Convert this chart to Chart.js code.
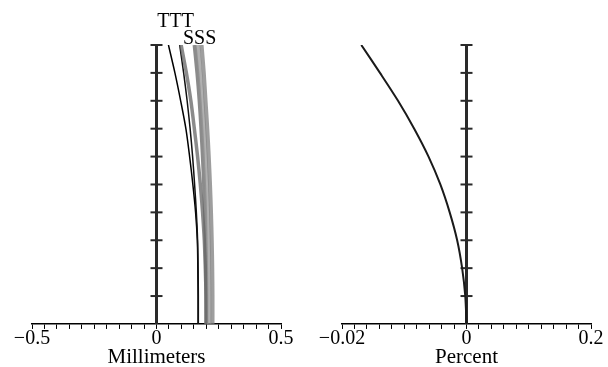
<!DOCTYPE html>
<html>
<head>
<meta charset="utf-8">
<script src="https://cdn.jsdelivr.net/npm/chart.js@4.4.0/dist/chart.umd.min.js"></script>
<style>
html, body { margin: 0; padding: 0; background: #fff; }
#wrap { position: relative; width: 608px; height: 367px; }
canvas { position: absolute; top: 0; }
</style>
</head>
<body>
<div id="wrap">
  <canvas id="curv" width="304" height="367" style="left:0"></canvas>
  <canvas id="dist" width="304" height="367" style="left:304px"></canvas>
</div>
<script>
// relative field height, bottom (0) to top (1)
const field = [0, 0.1, 0.2, 0.3, 0.4, 0.5, 0.6, 0.7, 0.8, 0.9, 1.0];

// field curvature, mm
const tan1 = [0.167, 0.167, 0.166, 0.164, 0.157, 0.146, 0.133, 0.118, 0.097, 0.074, 0.048];
const tan2 = [0.168, 0.168, 0.167, 0.165, 0.160, 0.153, 0.145, 0.135, 0.123, 0.109, 0.093];
const tan3 = [0.200, 0.199, 0.196, 0.192, 0.185, 0.176, 0.165, 0.152, 0.138, 0.120, 0.099];
const sag1 = [0.200, 0.200, 0.199, 0.197, 0.195, 0.191, 0.186, 0.180, 0.173, 0.164, 0.153];
const sag2 = [0.212, 0.212, 0.211, 0.209, 0.206, 0.202, 0.197, 0.191, 0.184, 0.176, 0.167];
const sag3 = [0.225, 0.225, 0.224, 0.222, 0.219, 0.215, 0.210, 0.204, 0.197, 0.190, 0.181];

// distortion (in the axis units of the right panel)
const distortion = [0, -0.002, -0.007, -0.015, -0.027, -0.042, -0.061, -0.084, -0.110, -0.139, -0.169];

const curvTicks = [-0.5, 0, 0.5];
const curvTickLabels = ['−0.5', '0', '0.5'];
const distTicks = [-0.2, 0, 0.2];
const distTickLabels = ['−0.02', '0', '0.2'];
const curveLabels = ['TTT', 'SSS'];
const curveLabelX = [0.077, 0.173];

Chart.defaults.font.family = '"Liberation Serif", "Times New Roman", serif';
Chart.defaults.font.size = 20;
Chart.defaults.color = '#000';

function pts(xs) {
  return xs.map((v, i) => ({ x: v, y: field[i] }));
}

function line(xs, color, width) {
  return {
    data: pts(xs),
    showLine: true,
    borderColor: color,
    borderWidth: width,
    pointRadius: 0,
    tension: 0.3,
    fill: false
  };
}

// vertical axis through x = 0 with ticks crossing it
const centerAxis = {
  id: 'centerAxis',
  beforeDatasetsDraw(chart) {
    const { ctx, scales: { x, y } } = chart;
    const px = x.getPixelForValue(0);
    ctx.save();
    ctx.strokeStyle = '#2a2a2a';
    ctx.lineWidth = 3;
    ctx.beginPath();
    ctx.moveTo(px, y.getPixelForValue(0));
    ctx.lineTo(px, y.getPixelForValue(1) - 1);
    ctx.stroke();
    ctx.lineWidth = 2;
    field.forEach(v => {
      if (v === 0) return;
      const py = y.getPixelForValue(v);
      ctx.beginPath();
      ctx.moveTo(px - 6, py);
      ctx.lineTo(px + 6, py);
      ctx.stroke();
    });
    ctx.restore();
  }
};

const curveNames = {
  id: 'curveNames',
  afterDraw(chart) {
    if (chart.canvas.id !== 'curv') return;
    const { ctx, scales: { x, y } } = chart;
    const top = y.getPixelForValue(1);
    ctx.save();
    ctx.font = '20px "Liberation Serif", serif';
    ctx.fillStyle = '#000';
    ctx.textAlign = 'center';
    ctx.textBaseline = 'alphabetic';
    ctx.fillText(curveLabels[0], x.getPixelForValue(curveLabelX[0]), top - 18);
    ctx.fillText(curveLabels[1], x.getPixelForValue(curveLabelX[1]), top - 1);
    ctx.restore();
  }
};

function options(min, max, step, tickVals, tickLabels, title, pad) {
  return {
    responsive: false,
    animation: false,
    layout: { padding: pad },
    plugins: { legend: { display: false }, tooltip: { enabled: false } },
    scales: {
      x: {
        type: 'linear',
        min: min,
        max: max,
        border: { display: true, color: '#000', width: 1.5 },
        grid: { drawOnChartArea: false, drawTicks: true, tickLength: 5, color: '#000', lineWidth: 1 },
        ticks: {
          stepSize: step,
          autoSkip: false,
          maxRotation: 0,
          padding: 0,
          font: { size: 20, lineHeight: 1 },
          callback: v => {
            const i = tickVals.findIndex(t => Math.abs(t - v) < 1e-6);
            return i >= 0 ? tickLabels[i] : '';
          }
        },
        title: { display: true, text: title, padding: 0, font: { size: 21, lineHeight: 0.86 } }
      },
      y: { type: 'linear', min: 0, max: 1, display: false }
    }
  };
}

new Chart(document.getElementById('curv'), {
  type: 'scatter',
  data: {
    datasets: [
      line(sag3, 'rgba(125,125,125,0.75)', 4),
      line(sag2, 'rgba(150,150,150,0.75)', 4),
      line(sag1, 'rgba(100,100,100,0.75)', 4),
      line(tan3, 'rgba(110,110,110,0.8)', 3.5),
      line(tan2, '#111', 1.5),
      line(tan1, '#000', 1.5)
    ]
  },
  options: options(-0.5, 0.5, 0.05, curvTicks, curvTickLabels, 'Millimeters',
    { left: 32, right: 23, top: 45, bottom: 0 }),
  plugins: [centerAxis, curveNames]
});

new Chart(document.getElementById('dist'), {
  type: 'scatter',
  data: { datasets: [line(distortion, '#1a1a1a', 2)] },
  options: options(-0.2, 0.2, 0.02, distTicks, distTickLabels, 'Percent',
    { left: 38, right: 17, top: 45, bottom: 0 }),
  plugins: [centerAxis]
});
</script>
</body>
</html>
